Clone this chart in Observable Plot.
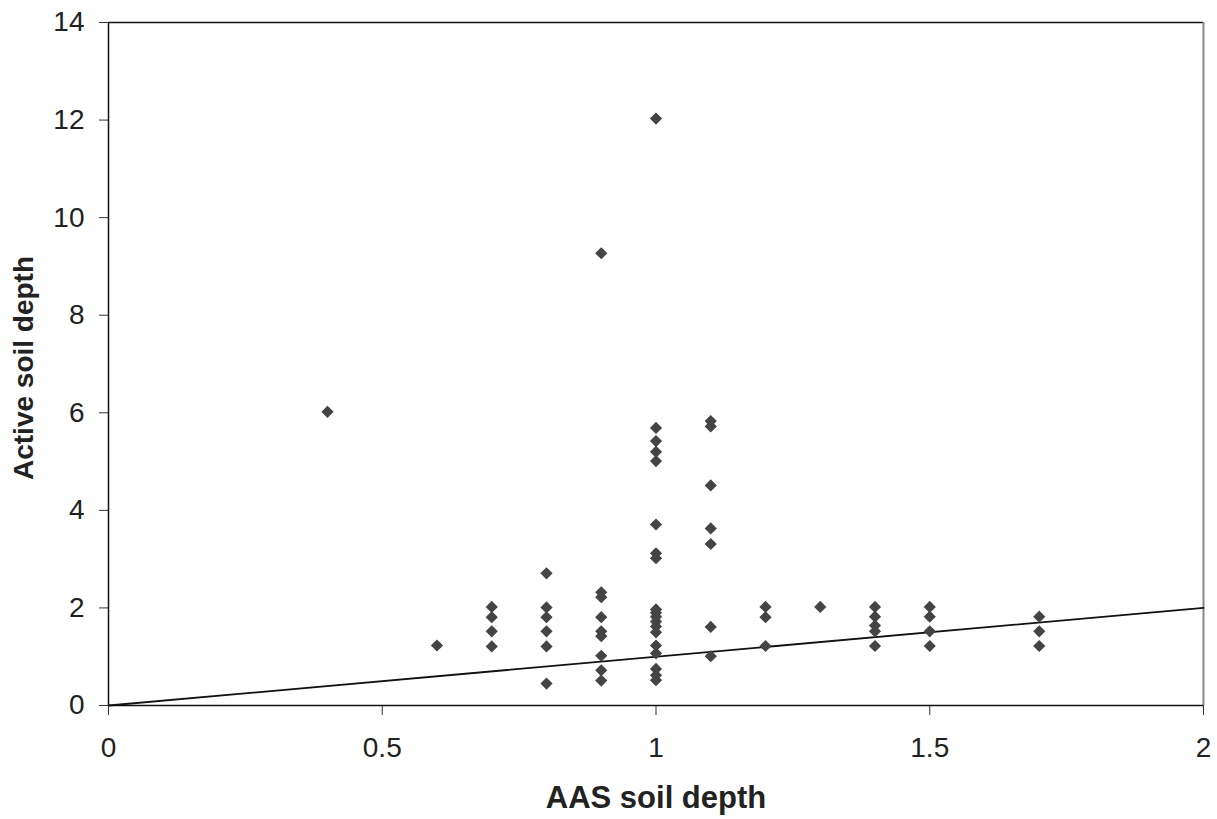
<!DOCTYPE html>
<html>
<head>
<meta charset="utf-8">
<script src="https://cdn.jsdelivr.net/npm/d3@7"></script>
<script src="https://cdn.jsdelivr.net/npm/@observablehq/plot@0.6"></script>
<style>
  html, body { margin: 0; padding: 0; background: #fff; }
  svg { display: block; }
</style>
</head>
<body>
<div id="chart"></div>
<script>
// AAS soil depth (x) and Active soil depth (y) observations
const aasDepth = [
  0.4,
  0.6,
  0.7, 0.7, 0.7, 0.7,
  0.8, 0.8, 0.8, 0.8, 0.8, 0.8,
  0.9, 0.9, 0.9, 0.9, 0.9, 0.9, 0.9, 0.9, 0.9,
  1.0, 1.0, 1.0, 1.0, 1.0, 1.0, 1.0, 1.0, 1.0, 1.0, 1.0, 1.0, 1.0, 1.0, 1.0, 1.0, 1.0, 1.0, 1.0,
  1.1, 1.1, 1.1, 1.1, 1.1, 1.1, 1.1,
  1.2, 1.2, 1.2,
  1.3,
  1.4, 1.4, 1.4, 1.4, 1.4,
  1.5, 1.5, 1.5, 1.5,
  1.7, 1.7, 1.7
];
const activeDepth = [
  6.02,
  1.23,
  2.02, 1.81, 1.52, 1.21,
  2.71, 2.01, 1.81, 1.52, 1.21, 0.45,
  9.27, 2.32, 2.22, 1.81, 1.52, 1.42, 1.02, 0.72, 0.51,
  12.03, 5.69, 5.42, 5.2, 5.01, 3.71, 3.12, 3.02, 1.97, 1.9, 1.82, 1.72, 1.62, 1.5, 1.23, 1.07, 0.75, 0.62, 0.52,
  5.83, 5.72, 4.51, 3.63, 3.31, 1.61, 1.01,
  2.02, 1.81, 1.22,
  2.02,
  2.02, 1.82, 1.64, 1.52, 1.22,
  2.02, 1.82, 1.52, 1.22,
  1.82, 1.52, 1.22
];
// 1:1 reference line
const refLineX = [0, 2];
const refLineY = [0, 2];
// tick labels
const xTicks = [0, 0.5, 1, 1.5, 2];
const yTicks = [0, 2, 4, 6, 8, 10, 12, 14];
const xTitle = "AAS soil depth";
const yTitle = "Active soil depth";

const points = aasDepth.map((x, i) => ({x, y: activeDepth[i]}));
const refLine = refLineX.map((x, i) => ({x, y: refLineY[i]}));

const chart = Plot.plot({
  width: 1217,
  height: 819,
  marginLeft: 108,
  marginRight: 14,
  marginTop: 22,
  marginBottom: 114,
  style: {fontFamily: "'Liberation Sans', Arial, sans-serif", color: "#222", background: "#fff"},
  x: {domain: [0, 2]},
  y: {domain: [0, 14]},
  marks: [
    Plot.ruleY([14], {stroke: "#111", strokeWidth: 1.5}),
    Plot.ruleX([2], {stroke: "#888", strokeWidth: 2}),
    Plot.axisX({ticks: xTicks, tickFormat: d => String(d), tickSize: 10, tickPadding: 22, fontSize: 28, label: null, stroke: "#333"}),
    Plot.axisY({ticks: yTicks, tickFormat: d => String(d), tickSize: 9, tickPadding: 15, fontSize: 28, label: null, stroke: "#333"}),
    Plot.ruleX([0], {stroke: "#111", strokeWidth: 1.5}),
    Plot.ruleY([0], {stroke: "#111", strokeWidth: 1.5}),
    Plot.line(refLine, {x: "x", y: "y", stroke: "#111", strokeWidth: 1.8}),
    Plot.dot(points, {x: "x", y: "y", symbol: "diamond2", r: 5.5, fill: "#444", stroke: "none"}),
    Plot.text([xTitle], {frameAnchor: "bottom", dy: 102, text: d => d, fontWeight: "bold", fontSize: 31, fill: "#222"}),
    Plot.text([yTitle], {frameAnchor: "left", textAnchor: "middle", dx: -84, dy: 4, rotate: -90, text: d => d, fontWeight: "bold", fontSize: 28, fill: "#222"})
  ]
});
document.getElementById("chart").appendChild(chart);
</script>
</body>
</html>
